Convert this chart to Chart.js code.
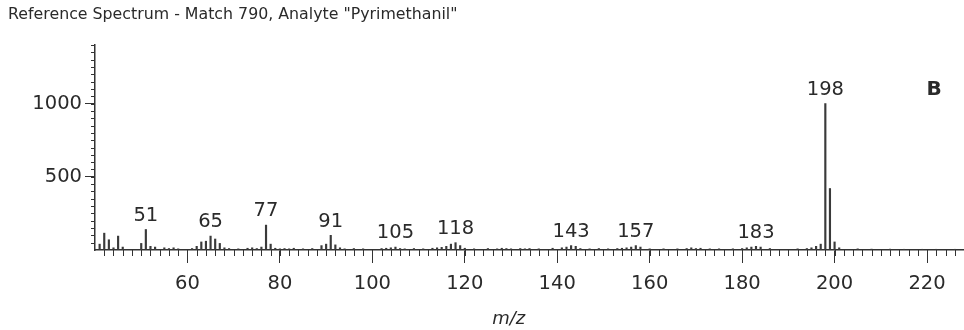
<!DOCTYPE html>
<html>
<head>
<meta charset="utf-8">
<script src="https://cdn.jsdelivr.net/npm/chart.js@4.4.1/dist/chart.umd.min.js"></script>
<style>
  html, body { margin: 0; padding: 0; background: #fff; }
  #wrap { width: 964px; height: 330px; position: relative; }
</style>
</head>
<body>
<div id="wrap"><canvas id="spec"></canvas></div>
<script>
// m/z values and relative intensities
const mzValues = [41, 42, 43, 44, 45, 46, 50, 51, 52, 53, 55, 56, 57, 58, 61, 62, 63, 64, 65, 66, 67, 68, 69,
  71, 73, 74, 75, 76, 77, 78, 79, 80, 81, 82, 83, 85, 87, 89, 90, 91, 92, 93, 94, 96, 98,
  102, 103, 104, 105, 106, 107, 109, 111, 113, 114, 115, 116, 117, 118, 119, 120, 122, 125, 127, 128,
  129, 130, 132, 133, 134, 136, 139, 141, 142, 143, 144, 145, 147, 149, 151, 153, 154, 155, 156, 157,
  158, 160, 163, 166, 168, 169, 170, 171, 173, 175, 178, 180, 181, 182, 183, 184, 186, 192, 194, 195,
  196, 197, 198, 199, 200, 201, 205, 208, 212, 215, 219, 222, 226];
const intensities = [40, 115, 70, 15, 95, 20, 45, 140, 25, 20, 15, 10, 15, 8, 10, 25, 55, 60, 95, 75, 45, 15, 10,
  8, 12, 15, 10, 20, 170, 40, 12, 8, 10, 8, 12, 8, 10, 30, 40, 100, 35, 15, 8, 10, 8,
  10, 12, 15, 20, 10, 8, 10, 8, 12, 15, 18, 25, 40, 50, 30, 12, 8, 10, 8, 12,
  10, 8, 10, 8, 10, 8, 12, 15, 20, 30, 25, 10, 8, 10, 8, 10, 12, 15, 20, 30,
  20, 8, 8, 8, 10, 15, 10, 12, 8, 8, 8, 10, 15, 20, 25, 20, 10, 8, 10, 15,
  25, 40, 1000, 420, 55, 15, 8, 6, 6, 5, 5, 5, 5];
const labeledPeaks = [51, 65, 77, 91, 105, 118, 143, 157, 183, 198];
const xTickValues = [60, 80, 100, 120, 140, 160, 180, 200, 220];
const yTickValues = [500, 1000];

const INK = '#333333';
const FONT = '"DejaVu Sans", Verdana, sans-serif';
const NUM_SIZE = 19.5;

const overlay = {
  id: 'overlay',
  afterDraw(chart) {
    const { ctx, scales: { x, y } } = chart;
    ctx.save();
    ctx.strokeStyle = INK;
    ctx.lineWidth = 1;
    // minor ticks
    ctx.beginPath();
    for (let v = 42; v <= x.max; v += 2) {
      const px = Math.round(x.getPixelForValue(v)) + 0.5;
      ctx.moveTo(px, y.bottom);
      ctx.lineTo(px, y.bottom + 6);
    }
    for (let v = 50; v <= y.max; v += 50) {
      const py = Math.round(y.getPixelForValue(v)) + 0.5;
      ctx.moveTo(x.left - 4, py);
      ctx.lineTo(x.left, py);
    }
    ctx.stroke();

    // peak labels
    const meta = chart.getDatasetMeta(0);
    ctx.fillStyle = '#2a2a2a';
    ctx.font = NUM_SIZE + 'px ' + FONT;
    ctx.textAlign = 'center';
    ctx.textBaseline = 'bottom';
    labeledPeaks.forEach(m => {
      const i = mzValues.indexOf(m);
      const bar = meta.data[i];
      ctx.fillText(String(m), bar.x, bar.y - 4);
    });

    // chart title, panel letter, axis title
    ctx.textAlign = 'left';
    ctx.textBaseline = 'middle';
    ctx.font = '15.8px ' + FONT;
    ctx.fillText('Reference Spectrum - Match 790, Analyte "Pyrimethanil"', 8, 15);
    ctx.textAlign = 'center';
    ctx.font = 'bold 20px ' + FONT;
    ctx.fillText('B', 934, 90);
    ctx.font = 'italic 18px ' + FONT;
    ctx.fillText('m/z', x.getPixelForValue(129.5), 319);
    ctx.restore();
  }
};

new Chart(document.getElementById('spec'), {
  type: 'bar',
  data: {
    datasets: [{
      data: mzValues.map((m, i) => ({ x: m, y: intensities[i] })),
      backgroundColor: '#3a3a3a',
      barThickness: 1.5,
      grouped: false
    }]
  },
  options: {
    responsive: true,
    maintainAspectRatio: false,
    animation: false,
    layout: { padding: { top: 45, right: 0, left: 0, bottom: 0 } },
    plugins: { legend: { display: false }, tooltip: { enabled: false } },
    scales: {
      x: {
        type: 'linear',
        min: 40, max: 228,
        offset: false,
        afterFit: s => { s.height = 80; },
        afterBuildTicks: s => { s.ticks = xTickValues.map(v => ({ value: v })); },
        border: { color: INK, width: 1.5 },
        grid: { drawOnChartArea: false, offset: false, tickLength: 13, color: INK },
        ticks: { color: '#2a2a2a', padding: 9, font: { family: FONT, size: NUM_SIZE }, maxRotation: 0, callback: v => String(v) }
      },
      y: {
        min: 0, max: 1400,
        afterFit: s => { s.width = 95; },
        afterBuildTicks: s => { s.ticks = yTickValues.map(v => ({ value: v })); },
        border: { color: INK, width: 1.5 },
        grid: { drawOnChartArea: false, tickLength: 10, color: INK },
        ticks: { color: '#2a2a2a', padding: 3, font: { family: FONT, size: NUM_SIZE }, callback: v => String(v) }
      }
    }
  },
  plugins: [overlay]
});
</script>
</body>
</html>
